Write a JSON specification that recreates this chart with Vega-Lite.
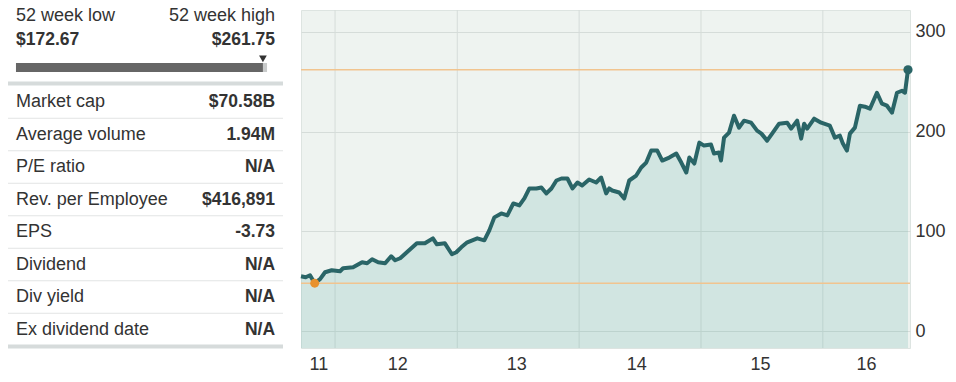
{
  "$schema": "https://vega.github.io/schema/vega-lite/v6.json",
  "padding": {"left": 6, "top": 7, "right": 0, "bottom": 0},
  "spacing": 18,
  "bounds": "flush",
  "config": {
    "view": {"stroke": null},
    "font": "Liberation Sans",
    "text": {"font": "Liberation Sans"},
    "axis": {"labelFont": "Liberation Sans"}
  },
  "datasets": {
    "stats": [
      {"row": 1, "label": "Market cap", "value": "$70.58B"},
      {"row": 2, "label": "Average volume", "value": "1.94M"},
      {"row": 3, "label": "P/E ratio", "value": "N/A"},
      {"row": 4, "label": "Rev. per Employee", "value": "$416,891"},
      {"row": 5, "label": "EPS", "value": "-3.73"},
      {"row": 6, "label": "Dividend", "value": "N/A"},
      {"row": 7, "label": "Div yield", "value": "N/A"},
      {"row": 8, "label": "Ex dividend date", "value": "N/A"}
    ],
    "header": [
      {"side": "low", "title": "52 week low", "price": "$172.67"},
      {"side": "high", "title": "52 week high", "price": "$261.75"}
    ],
    "years": [
      {"date": "2012-01-01"}, {"date": "2013-01-01"}, {"date": "2014-01-01"}, {"date": "2015-01-01"}, {"date": "2016-01-01"}
    ],
    "prices": [
      {"date": "2011-09-21", "price": 55},
      {"date": "2011-10-05", "price": 54},
      {"date": "2011-10-18", "price": 56},
      {"date": "2011-11-01", "price": 48},
      {"date": "2011-11-17", "price": 52},
      {"date": "2011-12-02", "price": 59},
      {"date": "2011-12-22", "price": 61},
      {"date": "2012-01-16", "price": 60},
      {"date": "2012-01-25", "price": 63},
      {"date": "2012-02-24", "price": 64},
      {"date": "2012-03-22", "price": 69},
      {"date": "2012-04-06", "price": 68},
      {"date": "2012-04-21", "price": 72},
      {"date": "2012-05-09", "price": 69},
      {"date": "2012-05-30", "price": 68},
      {"date": "2012-06-17", "price": 75},
      {"date": "2012-06-29", "price": 71},
      {"date": "2012-07-14", "price": 73},
      {"date": "2012-08-03", "price": 79},
      {"date": "2012-09-02", "price": 88},
      {"date": "2012-09-26", "price": 88},
      {"date": "2012-10-20", "price": 93},
      {"date": "2012-11-01", "price": 87},
      {"date": "2012-11-25", "price": 88},
      {"date": "2012-12-16", "price": 77},
      {"date": "2012-12-29", "price": 79},
      {"date": "2013-01-13", "price": 84},
      {"date": "2013-01-31", "price": 89},
      {"date": "2013-03-02", "price": 93},
      {"date": "2013-03-23", "price": 91},
      {"date": "2013-04-07", "price": 101},
      {"date": "2013-04-22", "price": 114},
      {"date": "2013-05-13", "price": 118},
      {"date": "2013-05-31", "price": 116},
      {"date": "2013-06-18", "price": 128},
      {"date": "2013-07-06", "price": 126},
      {"date": "2013-07-21", "price": 133},
      {"date": "2013-08-05", "price": 143},
      {"date": "2013-08-26", "price": 143},
      {"date": "2013-09-10", "price": 144},
      {"date": "2013-09-25", "price": 138},
      {"date": "2013-10-10", "price": 143},
      {"date": "2013-10-25", "price": 151},
      {"date": "2013-11-09", "price": 153},
      {"date": "2013-11-27", "price": 153},
      {"date": "2013-12-12", "price": 143},
      {"date": "2013-12-27", "price": 149},
      {"date": "2014-01-10", "price": 146},
      {"date": "2014-01-31", "price": 152},
      {"date": "2014-02-21", "price": 149},
      {"date": "2014-03-08", "price": 154},
      {"date": "2014-03-23", "price": 138},
      {"date": "2014-04-01", "price": 143},
      {"date": "2014-04-10", "price": 141},
      {"date": "2014-05-01", "price": 139},
      {"date": "2014-05-16", "price": 133},
      {"date": "2014-05-31", "price": 151},
      {"date": "2014-06-21", "price": 156},
      {"date": "2014-07-06", "price": 164},
      {"date": "2014-07-21", "price": 169},
      {"date": "2014-08-05", "price": 181},
      {"date": "2014-08-23", "price": 181},
      {"date": "2014-09-07", "price": 171},
      {"date": "2014-09-28", "price": 174},
      {"date": "2014-10-19", "price": 178},
      {"date": "2014-11-03", "price": 169},
      {"date": "2014-11-18", "price": 159},
      {"date": "2014-11-27", "price": 174},
      {"date": "2014-12-12", "price": 168},
      {"date": "2014-12-27", "price": 189},
      {"date": "2015-01-10", "price": 186},
      {"date": "2015-01-31", "price": 187},
      {"date": "2015-02-09", "price": 178},
      {"date": "2015-02-24", "price": 179},
      {"date": "2015-03-02", "price": 171},
      {"date": "2015-03-11", "price": 194},
      {"date": "2015-03-26", "price": 199},
      {"date": "2015-04-10", "price": 216},
      {"date": "2015-04-25", "price": 204},
      {"date": "2015-05-10", "price": 211},
      {"date": "2015-05-31", "price": 209},
      {"date": "2015-06-18", "price": 201},
      {"date": "2015-07-01", "price": 198},
      {"date": "2015-07-18", "price": 191},
      {"date": "2015-08-02", "price": 198},
      {"date": "2015-08-23", "price": 208},
      {"date": "2015-09-16", "price": 209},
      {"date": "2015-09-28", "price": 203},
      {"date": "2015-10-16", "price": 211},
      {"date": "2015-10-28", "price": 193},
      {"date": "2015-11-06", "price": 208},
      {"date": "2015-11-15", "price": 203},
      {"date": "2015-12-06", "price": 213},
      {"date": "2015-12-27", "price": 209},
      {"date": "2016-01-22", "price": 206},
      {"date": "2016-02-06", "price": 194},
      {"date": "2016-02-21", "price": 196},
      {"date": "2016-03-01", "price": 188},
      {"date": "2016-03-13", "price": 181},
      {"date": "2016-03-22", "price": 198},
      {"date": "2016-04-06", "price": 204},
      {"date": "2016-04-21", "price": 226},
      {"date": "2016-05-06", "price": 225},
      {"date": "2016-05-21", "price": 223},
      {"date": "2016-06-11", "price": 239},
      {"date": "2016-06-26", "price": 228},
      {"date": "2016-07-11", "price": 226},
      {"date": "2016-07-26", "price": 219},
      {"date": "2016-08-10", "price": 239},
      {"date": "2016-08-25", "price": 241},
      {"date": "2016-09-03", "price": 239},
      {"date": "2016-09-12", "price": 262}
    ]
  },
  "hconcat": [
    {
      "width": 275,
      "height": 338,
      "layer": [
        {
          "data": {"name": "stats"},
          "mark": {"type": "text", "align": "left", "baseline": "middle", "fontSize": 18, "color": "#333333"},
          "encoding": {
            "y": {"field": "row", "type": "quantitative", "scale": {"domain": [-1.831, 8.569], "reverse": true, "nice": false, "zero": false}, "axis": null},
            "x": {"datum": 0.029, "type": "quantitative", "scale": {"domain": [0, 1], "nice": false, "zero": false}, "axis": null},
            "text": {"field": "label"}
          }
        },
        {
          "data": {"name": "stats"},
          "mark": {"type": "text", "align": "right", "baseline": "middle", "fontSize": 17.5, "fontWeight": "bold", "color": "#333333"},
          "encoding": {
            "y": {"field": "row", "type": "quantitative", "axis": null},
            "x": {"datum": 0.971, "type": "quantitative", "axis": null},
            "text": {"field": "value"}
          }
        },
        {
          "data": {"name": "stats"},
          "transform": [{"filter": "datum.row < 8"}],
          "mark": {"type": "rule", "color": "#e2e4e4", "strokeWidth": 1, "yOffset": 16.25},
          "encoding": {
            "y": {"field": "row", "type": "quantitative", "axis": null},
            "x": {"datum": 0, "type": "quantitative", "axis": null},
            "x2": {"datum": 1}
          }
        },
        {
          "data": {"name": "stats"},
          "transform": [{"filter": "datum.row == 8"}],
          "mark": {"type": "rule", "color": "#d6dbdb", "strokeWidth": 4, "yOffset": 17},
          "encoding": {
            "y": {"field": "row", "type": "quantitative", "axis": null},
            "x": {"datum": 0, "type": "quantitative", "axis": null},
            "x2": {"datum": 1}
          }
        },
        {
          "data": {"name": "stats"},
          "transform": [{"filter": "datum.row == 1"}],
          "mark": {"type": "rule", "color": "#d6dbdb", "strokeWidth": 4, "yOffset": -18.5},
          "encoding": {
            "y": {"field": "row", "type": "quantitative", "axis": null},
            "x": {"datum": 0, "type": "quantitative", "axis": null},
            "x2": {"datum": 1}
          }
        },
        {
          "data": {"name": "header"},
          "transform": [{"filter": "datum.side == 'low'"}],
          "mark": {"type": "text", "align": "left", "baseline": "middle", "fontSize": 18, "color": "#333333"},
          "encoding": {
            "y": {"datum": -1.646, "type": "quantitative", "axis": null},
            "x": {"datum": 0.029, "type": "quantitative", "axis": null},
            "text": {"field": "title"}
          }
        },
        {
          "data": {"name": "header"},
          "transform": [{"filter": "datum.side == 'high'"}],
          "mark": {"type": "text", "align": "right", "baseline": "middle", "fontSize": 18, "color": "#333333"},
          "encoding": {
            "y": {"datum": -1.646, "type": "quantitative", "axis": null},
            "x": {"datum": 0.971, "type": "quantitative", "axis": null},
            "text": {"field": "title"}
          }
        },
        {
          "data": {"name": "header"},
          "transform": [{"filter": "datum.side == 'low'"}],
          "mark": {"type": "text", "align": "left", "baseline": "middle", "fontSize": 17.5, "fontWeight": "bold", "color": "#333333"},
          "encoding": {
            "y": {"datum": -0.908, "type": "quantitative", "axis": null},
            "x": {"datum": 0.029, "type": "quantitative", "axis": null},
            "text": {"field": "price"}
          }
        },
        {
          "data": {"name": "header"},
          "transform": [{"filter": "datum.side == 'high'"}],
          "mark": {"type": "text", "align": "right", "baseline": "middle", "fontSize": 17.5, "fontWeight": "bold", "color": "#333333"},
          "encoding": {
            "y": {"datum": -0.908, "type": "quantitative", "axis": null},
            "x": {"datum": 0.971, "type": "quantitative", "axis": null},
            "text": {"field": "price"}
          }
        },
        {
          "data": {"name": "header"},
          "transform": [{"filter": "datum.side == 'high'"}],
          "mark": {"type": "rule", "color": "#c9cbcb", "strokeWidth": 9},
          "encoding": {
            "y": {"datum": -0.0615, "type": "quantitative", "axis": null},
            "x": {"datum": 0.927, "type": "quantitative", "axis": null},
            "x2": {"datum": 0.942}
          }
        },
        {
          "data": {"name": "header"},
          "transform": [{"filter": "datum.side == 'low'"}],
          "mark": {"type": "rule", "color": "#666666", "strokeWidth": 9},
          "encoding": {
            "y": {"datum": -0.0615, "type": "quantitative", "axis": null},
            "x": {"datum": 0.029, "type": "quantitative", "axis": null},
            "x2": {"datum": 0.927}
          }
        },
        {
          "data": {"name": "header"},
          "transform": [{"filter": "datum.side == 'high'"}],
          "mark": {"type": "point", "shape": "triangle-down", "filled": true, "color": "#333333", "size": 60, "opacity": 1},
          "encoding": {
            "y": {"datum": -0.33, "type": "quantitative", "axis": null},
            "x": {"datum": 0.927, "type": "quantitative", "axis": null}
          }
        }
      ]
    },
    {
      "width": 609,
      "height": 338,
      "view": {"fill": "#eef3f0", "stroke": "#dde4e1"},
      "layer": [
        {
          "data": {"name": "years"},
          "mark": {"type": "rule", "color": "#d5dcd9", "strokeWidth": 1},
          "encoding": {
            "x": {"field": "date", "type": "temporal"}
          }
        },
        {
          "data": {"name": "prices"},
          "mark": {"type": "area", "color": "#5fb0a5", "fillOpacity": 0.2, "opacity": 1},
          "encoding": {
            "x": {"field": "date", "type": "temporal"},
            "y": {
              "field": "price", "type": "quantitative",
              "scale": {"domain": [-17, 322], "nice": false, "zero": false},
              "axis": {"orient": "right", "values": [0, 100, 200, 300], "title": null, "ticks": false, "domain": false, "grid": true, "gridColor": "#d5dcd9", "labelFontSize": 18, "labelColor": "#333333", "labelPadding": 5}
            },
            "y2": {"datum": -17}
          }
        },
        {
          "data": {"name": "prices"},
          "mark": {"type": "rule", "color": "#f1c48f", "strokeWidth": 1.5},
          "encoding": {
            "y": {"aggregate": "min", "field": "price", "type": "quantitative"}
          }
        },
        {
          "data": {"name": "prices"},
          "mark": {"type": "rule", "color": "#f1c48f", "strokeWidth": 1.5},
          "encoding": {
            "y": {"aggregate": "max", "field": "price", "type": "quantitative"}
          }
        },
        {
          "data": {"name": "prices"},
          "mark": {"type": "line", "color": "#2a6567", "strokeWidth": 4, "strokeJoin": "round"},
          "encoding": {
            "x": {
              "field": "date", "type": "temporal",
              "scale": {"domain": [{"year": 2011, "month": 9, "date": 21}, {"year": 2016, "month": 9, "date": 18}]},
              "axis": {
                "values": [
                  {"year": 2011, "month": 11, "date": 12},
                  {"year": 2012, "month": 7, "date": 5},
                  {"year": 2013, "month": 6, "date": 27},
                  {"year": 2014, "month": 6, "date": 21},
                  {"year": 2015, "month": 6, "date": 27},
                  {"year": 2016, "month": 5, "date": 9}
                ],
                "format": "%y", "title": null, "grid": false, "ticks": false, "domain": false,
                "labelFontSize": 18, "labelColor": "#333333", "labelPadding": 7
              }
            },
            "y": {"field": "price", "type": "quantitative"}
          }
        },
        {
          "data": {"name": "prices"},
          "transform": [
            {"joinaggregate": [{"op": "min", "field": "price", "as": "minp"}]},
            {"filter": "datum.price == datum.minp"}
          ],
          "mark": {"type": "circle", "color": "#e8922e", "size": 80, "opacity": 1},
          "encoding": {
            "x": {"field": "date", "type": "temporal"},
            "y": {"field": "price", "type": "quantitative"}
          }
        },
        {
          "data": {"name": "prices"},
          "transform": [
            {"joinaggregate": [{"op": "max", "field": "price", "as": "maxp"}]},
            {"filter": "datum.price == datum.maxp"}
          ],
          "mark": {"type": "circle", "color": "#2a6567", "size": 85, "opacity": 1},
          "encoding": {
            "x": {"field": "date", "type": "temporal"},
            "y": {"field": "price", "type": "quantitative"}
          }
        }
      ]
    }
  ]
}
